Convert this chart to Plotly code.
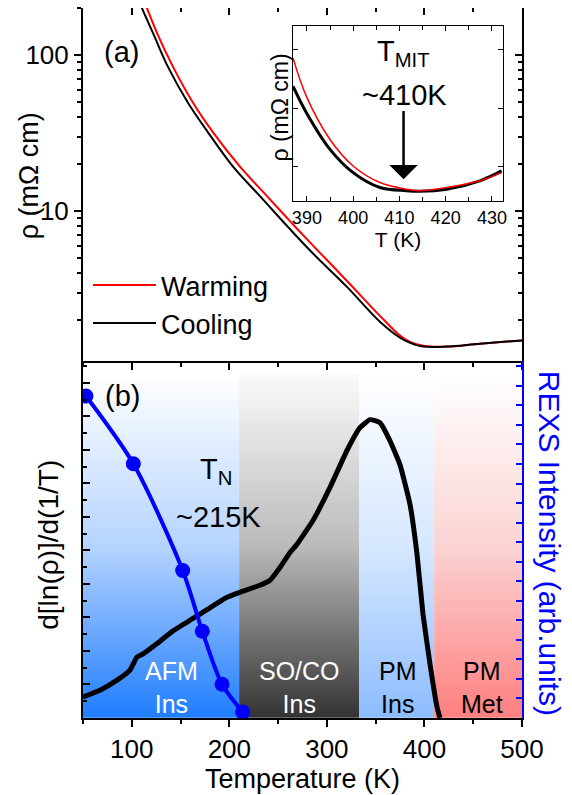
import plotly.graph_objects as go
import numpy as np

# ---------------- data ----------------
# (a) resistivity, main panel
T_warm = [111, 115.6, 125.9, 142.3, 162.8, 183.3, 210.9, 238.6, 262.2, 285.8, 320.6, 354.4, 374.9, 385.2, 398.5, 423.1, 456.9, 500]
rho_warm = [232, 199, 138, 84, 49.5, 32.0, 19.3, 12.5, 8.64, 6.03, 3.58, 2.14, 1.60, 1.46, 1.38, 1.36, 1.42, 1.49]
T_cool = [106, 110.5, 121.8, 137.1, 157.6, 178.1, 203.8, 231.4, 262.2, 285.8, 320.6, 354.4, 374.9, 385.2, 398.5, 423.1, 456.9, 500]
rho_cool = [232, 199, 138, 84, 49.5, 32.0, 19.3, 12.5, 7.68, 5.36, 3.28, 1.96, 1.55, 1.44, 1.36, 1.36, 1.42, 1.49]

# (a) inset near T_MIT
T_inset = [387.0, 389.9, 395.0, 400.0, 405.8, 411.5, 414.4, 420.2, 427.4, 432.1]
rho_inset_warm = [1.4072, 1.3940, 1.3792, 1.3701, 1.3644, 1.3621, 1.3616, 1.3627, 1.3650, 1.3678]
rho_inset_cool = [1.3975, 1.3884, 1.3758, 1.3678, 1.3627, 1.3616, 1.3614, 1.3621, 1.3650, 1.3684]

# (b) d[ln(rho)]/d(1/T)
T_deriv = [50, 67.4, 84.9, 98.2, 105.4, 111.5, 125.9, 142.2, 162.8, 177.1, 197.6, 210.9, 231.4, 241.7, 251.9,
           262.2, 269.3, 285.7, 303.2, 320.6, 333.9, 344.2, 354.4, 364.7, 374.9, 385.2, 392.4, 398.5, 405.7, 412.9, 415.9]
deriv = [0.63, 0.83, 1.13, 1.43, 1.82, 1.91, 2.22, 2.60, 2.97, 3.23, 3.60, 3.75, 3.96, 4.11, 4.49,
         4.94, 5.18, 5.89, 6.88, 7.98, 8.66, 8.90, 8.81, 8.27, 7.56, 6.37, 4.88, 3.10, 1.61, 0.33, 0.0]

# (b) REXS intensity
T_rexs = [53, 101.6, 152.2, 172.3, 192.5, 213.7]
I_rexs = [16.48, 13.01, 7.55, 4.44, 1.73, 0.31]

# phase regions
phase_edges = [50, 210, 333, 410, 500]
phase_names = ["AFM<br>Ins", "SO/CO<br>Ins", "PM<br>Ins", "PM<br>Met"]
phase_label_T = [141, 272, 373, 459]
phase_text_colors = ["white", "white", "black", "black"]
phase_colorscales = [
    [[0, "#ffffff"], [0.5, "#b6d4ff"], [1, "#1f7dff"]],
    [[0, "#fafafa"], [0.5, "#bababa"], [1, "#333333"]],
    [[0, "#ffffff"], [0.5, "#d6e7ff"], [1, "#8cbcff"]],
    [[0, "#ffffff"], [0.5, "#fbd3d3"], [1, "#ff7f7f"]],
]

# ---------------- layout helpers ----------------
W, H = 572, 795
ML, MR, MT, MB = 83, 50, 8, 74
PW = W - ML - MR
PH = H - MT - MB


def pxx(x):
    return (x - ML) / PW


def pxy(y):
    return (H - MB - y) / PH


FONT = "Liberation Sans, Arial, sans-serif"
split = pxy(362.5)

fig = go.Figure()

# ---- panel (b) background gradients ----
shade_top = 10.24
nrow = 120
y_edges = np.linspace(0, shade_top, nrow + 1)
zcol = [[1 - (i + 0.5) / nrow] for i in range(nrow)]
for i in range(4):
    fig.add_trace(go.Heatmap(
        x=[phase_edges[i], phase_edges[i + 1]], y=y_edges, z=zcol,
        colorscale=phase_colorscales[i], zmin=0, zmax=1, showscale=False,
        hoverinfo="skip", xaxis="x2", yaxis="y2"))

fig.add_trace(go.Scatter(x=T_deriv, y=deriv, mode="lines", line=dict(color="black", width=5, shape="spline", smoothing=0.4),
                         xaxis="x2", yaxis="y2", showlegend=False))
fig.add_trace(go.Scatter(x=T_rexs, y=I_rexs, mode="lines+markers",
                         line=dict(color="#0000ff", width=4, shape="spline", smoothing=0.8),
                         marker=dict(color="#0000ff", size=15),
                         xaxis="x2", yaxis="y3", showlegend=False))

# ---- panel (a) ----
fig.add_trace(go.Scatter(x=T_warm, y=rho_warm, mode="lines", name="Warming",
                         line=dict(color="#ff0000", width=2, shape="spline", smoothing=1.0), xaxis="x", yaxis="y"))
fig.add_trace(go.Scatter(x=T_cool, y=rho_cool, mode="lines", name="Cooling",
                         line=dict(color="black", width=2, shape="spline", smoothing=1.0), xaxis="x", yaxis="y"))
# dummy traces for mirror axes
fig.add_trace(go.Scatter(x=[None], y=[None], xaxis="x5", yaxis="y", showlegend=False, hoverinfo="skip"))
fig.add_trace(go.Scatter(x=[None], y=[None], xaxis="x", yaxis="y5", showlegend=False, hoverinfo="skip"))

# ---- inset ----
fig.add_trace(go.Scatter(x=T_inset, y=rho_inset_cool, mode="lines", line=dict(color="black", width=3, shape="spline"),
                         xaxis="x3", yaxis="y4", showlegend=False))
fig.add_trace(go.Scatter(x=T_inset, y=rho_inset_warm, mode="lines", line=dict(color="#ff0000", width=1.5, shape="spline"),
                         xaxis="x3", yaxis="y4", showlegend=False))

ax_common = dict(showline=True, linecolor="black", linewidth=2, showgrid=False, zeroline=False,
                 tickcolor="black", tickwidth=1.5, ticklen=7)

log_minor = [2, 3, 4, 5, 6, 7, 8, 9, 20, 30, 40, 50, 60, 70, 80, 90, 200]

fig.update_layout(
    width=W, height=H, margin=dict(l=ML, r=MR, t=MT, b=MB),
    paper_bgcolor="white", plot_bgcolor="rgba(0,0,0,0)",
    font=dict(family=FONT, size=26, color="black"),
    xaxis=dict(**ax_common, domain=[0, 1], anchor="y", range=[50, 500], ticks="outside", dtick=100,
               showticklabels=False, minor=dict(dtick=50, ticks="outside", ticklen=4, tickcolor="black")),
    xaxis5=dict(showline=False, showgrid=False, zeroline=False, overlaying="x", side="top", anchor="y",
                range=[50, 500], ticks="inside", ticklen=7, tickwidth=1.5, tickcolor="black", dtick=100,
                showticklabels=False, minor=dict(dtick=50, ticks="inside", ticklen=4, tickcolor="black")),
    yaxis=dict(**ax_common, domain=[split, 1], anchor="x", type="log", range=[np.log10(1.1), np.log10(200)],
               ticks="outside", tickvals=[10, 100], ticktext=["10", "100"], tickfont=dict(size=26),
               mirror=True,
               minor=dict(tickvals=log_minor, ticks="outside", ticklen=4, tickcolor="black")),
    yaxis5=dict(showline=False, showgrid=False, zeroline=False, overlaying="y", side="right", anchor="x", type="log",
                range=[np.log10(1.1), np.log10(200)], ticks="inside", ticklen=7, tickwidth=1.5, tickcolor="black",
                tickvals=[10, 100], showticklabels=False,
                minor=dict(tickvals=log_minor, ticks="inside", ticklen=4, tickcolor="black")),
    xaxis2=dict(**ax_common, domain=[0, 1], anchor="y2", range=[50, 500], ticks="outside", dtick=100,
                tickfont=dict(size=26),
                title=dict(text="Temperature (K)", font=dict(size=27), standoff=4),
                minor=dict(dtick=50, ticks="outside", ticklen=4, tickcolor="black")),
    yaxis2=dict(**ax_common, domain=[0, split], anchor="x2", range=[0, 10.65], ticks="inside", dtick=1,
                showticklabels=False, minor=dict(dtick=0.5, ticks="inside", ticklen=4, tickcolor="black")),
    yaxis3=dict(showline=True, linecolor="#0000ff", linewidth=2, showgrid=False, zeroline=False,
                overlaying="y2", side="right", anchor="x2", range=[0, 18.27], ticks="inside", dtick=1,
                ticklen=6, tickwidth=1.5, tickcolor="#0000ff", showticklabels=False),
    xaxis3=dict(showline=True, linecolor="black", linewidth=1, mirror="ticks", showgrid=False, zeroline=False,
                domain=[pxx(293), pxx(503)], anchor="y4", range=[387, 432.4], ticks="inside", dtick=10,
                ticklen=5, tickwidth=1, tickcolor="black", tickfont=dict(size=18),
                title=dict(text="T (K)", font=dict(size=21), standoff=3),
                minor=dict(dtick=5, ticks="inside", ticklen=4, tickcolor="black")),
    yaxis4=dict(showline=True, linecolor="black", linewidth=1, mirror="ticks", showgrid=False, zeroline=False,
                domain=[pxy(202), pxy(26)], anchor="x3", range=[1.358, 1.4182], ticks="inside",
                tickvals=[1.37, 1.39, 1.41], ticklen=5, tickwidth=1, tickcolor="black", showticklabels=False),
    legend=dict(x=pxx(88), y=pxy(262), xanchor="left", yanchor="top", bgcolor="rgba(0,0,0,0)",
                font=dict(size=27), itemwidth=63, tracegroupgap=0),
)

ann = []


def add_text(text, x, y, size, color="black", angle=0):
    ann.append(dict(text=text, x=pxx(x), y=pxy(y), xref="paper", yref="paper", showarrow=False,
                    font=dict(size=size, color=color, family=FONT), textangle=angle,
                    xanchor="center", yanchor="middle"))


add_text("(a)", 121, 52, 29)
add_text("(b)", 122, 398, 29)
add_text("ρ (mΩ cm)", 29, 177, 27, angle=-90)
add_text("d[ln(ρ)]/d(1/T)", 49, 547, 28, angle=-90)
add_text("REXS Intensity (arb.units)", 549, 545, 30, color="#0000ff", angle=90)
add_text("ρ (mΩ cm)", 280, 108, 23, angle=-90)
add_text("T<sub>MIT</sub>", 403, 53, 29)
add_text("~410K", 404, 95, 29)
add_text("T<sub>N</sub>", 216, 473, 29)
add_text("~215K", 218, 519, 29)
for name, tl, c in zip(phase_names, phase_label_T, phase_text_colors):
    ann.append(dict(text=name, x=tl, y=pxy(690), xref="x2", yref="paper", showarrow=False,
                    font=dict(size=25, color=c, family=FONT), xanchor="center", yanchor="middle"))
# arrow pointing to T_MIT in inset
ann.append(dict(text="", x=410.9, y=1.3655, xref="x3", yref="y4", ax=410.9, ay=1.3895, axref="x3", ayref="y4",
                showarrow=True, arrowhead=1, arrowsize=1.9, arrowwidth=2.5, arrowcolor="black", standoff=0))
fig.update_layout(annotations=ann)

fig.write_html("out.html")
